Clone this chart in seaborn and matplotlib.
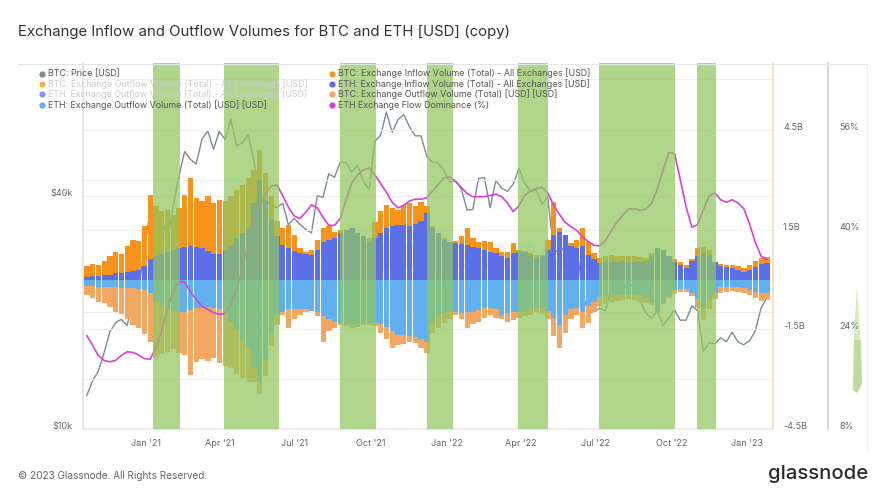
import pandas as pd
import numpy as np
import matplotlib
matplotlib.use("Agg")
import matplotlib.pyplot as plt
import matplotlib.dates as mdates
from matplotlib.lines import Line2D
from matplotlib.patches import Polygon
from matplotlib.ticker import FixedLocator, FixedFormatter, NullLocator
import seaborn as sns

# === 1. Data (weekly) ===
week_start = pd.date_range("2020-10-18", periods=119, freq="7D")

# BTC exchange inflow [B USD]
btc_inflow = [
    0.40, 0.48, 0.45, 0.55, 0.70, 0.84, 0.78, 1.00, 1.20, 1.15,
    1.60, 2.55, 2.20, 2.05, 2.10, 1.95, 2.15, 2.55, 3.06, 2.45,
    2.35, 2.50, 2.30, 2.40, 2.35, 2.50, 2.70, 2.85, 3.06, 3.30,
    3.90, 3.20, 2.50, 1.75, 1.55, 1.64, 1.34, 0.95, 0.84, 0.90,
    1.20, 1.55, 1.60, 1.44, 1.50, 1.45, 1.40, 1.38, 1.30, 1.24,
    1.74, 2.05, 2.24, 2.15, 2.10, 2.24, 2.30, 2.20, 2.34, 2.20,
    1.60, 1.40, 1.25, 1.14, 1.15, 1.30, 1.55, 1.24, 1.14, 1.15,
    1.14, 0.95, 0.84, 0.84, 1.10, 0.90, 0.85, 0.80, 0.74, 0.75,
    1.20, 2.34, 1.55, 1.34, 1.10, 1.20, 1.55, 1.14, 0.80, 0.65,
    0.72, 0.74, 0.70, 0.72, 0.70, 0.70, 0.68, 0.66, 0.80, 0.95,
    0.85, 0.70, 0.62, 0.54, 0.44, 0.62, 0.95, 0.99, 0.90, 0.54,
    0.46, 0.44, 0.44, 0.40, 0.34, 0.45, 0.55, 0.64, 0.68,
]

# ETH exchange inflow [B USD]
eth_inflow = [
    0.08, 0.10, 0.11, 0.13, 0.15, 0.20, 0.21, 0.24, 0.26, 0.30,
    0.42, 0.62, 0.70, 0.78, 0.84, 0.90, 0.95, 0.99, 1.00, 0.98,
    0.95, 0.85, 0.76, 0.78, 0.85, 1.04, 1.25, 1.40, 1.55, 2.30,
    3.00, 2.40, 1.80, 1.30, 1.04, 0.95, 0.85, 0.80, 0.76, 0.74,
    0.88, 1.14, 1.20, 1.24, 1.40, 1.50, 1.55, 1.40, 1.30, 1.14,
    1.25, 1.40, 1.55, 1.60, 1.64, 1.64, 1.60, 1.66, 1.75, 2.00,
    1.55, 1.40, 1.20, 1.14, 1.10, 1.06, 1.04, 0.98, 0.95, 0.88,
    0.84, 0.80, 0.72, 0.65, 0.80, 0.84, 0.82, 0.74, 0.65, 0.72,
    0.90, 1.34, 1.44, 1.34, 1.00, 0.95, 1.00, 0.75, 0.62, 0.50,
    0.52, 0.54, 0.54, 0.55, 0.54, 0.54, 0.54, 0.56, 0.75, 0.95,
    0.88, 0.70, 0.54, 0.44, 0.34, 0.55, 0.70, 0.80, 0.75, 0.54,
    0.40, 0.38, 0.34, 0.30, 0.24, 0.30, 0.38, 0.48, 0.50,
]

# BTC exchange outflow [B USD] (drawn downwards)
btc_outflow = [
    -0.47, -0.55, -0.67, -0.72, -0.82, -0.97, -1.05, -1.20, -1.37, -1.45,
    -1.65, -1.87, -2.37, -2.25, -2.17, -2.10, -2.20, -2.27, -2.88, -2.48,
    -2.40, -2.45, -2.37, -2.50, -2.60, -2.67, -2.85, -2.97, -3.10, -3.08,
    -3.45, -2.90, -2.00, -1.37, -1.07, -1.46, -1.20, -1.07, -0.97, -0.86,
    -1.10, -1.87, -1.55, -1.45, -1.37, -1.40, -1.46, -1.42, -1.37, -1.37,
    -1.40, -1.60, -1.80, -2.07, -1.97, -1.95, -1.87, -1.90, -2.07, -2.20,
    -1.60, -1.46, -1.30, -1.20, -1.07, -1.20, -1.46, -1.35, -1.27, -1.15,
    -1.07, -1.17, -1.20, -1.27, -1.22, -1.15, -1.10, -1.07, -0.97, -1.05,
    -1.20, -1.70, -2.07, -1.60, -1.20, -1.07, -1.46, -1.30, -0.97, -0.80,
    -0.75, -0.67, -0.65, -0.62, -0.60, -0.62, -0.67, -0.72, -0.77, -0.80,
    -0.70, -0.55, -0.45, -0.37, -0.37, -0.50, -0.86, -1.22, -0.90, -0.60,
    -0.40, -0.37, -0.35, -0.37, -0.40, -0.48, -0.56, -0.66, -0.62,
]

# ETH exchange outflow [B USD] (drawn downwards)
eth_outflow = [
    -0.20, -0.21, -0.22, -0.22, -0.23, -0.24, -0.25, -0.25, -0.26, -0.28,
    -0.32, -0.42, -0.67, -0.78, -0.87, -0.92, -0.97, -0.97, -0.93, -0.86,
    -0.86, -0.84, -0.86, -0.90, -1.00, -1.27, -1.50, -1.80, -2.07, -2.67,
    -3.10, -2.40, -1.60, -1.07, -0.97, -0.90, -0.90, -0.88, -0.90, -0.95,
    -0.97, -1.10, -1.20, -1.27, -1.32, -1.35, -1.37, -1.33, -1.30, -1.30,
    -1.30, -1.35, -1.42, -1.55, -1.67, -1.67, -1.70, -1.72, -1.80, -1.87,
    -1.30, -1.07, -1.00, -0.97, -0.97, -1.00, -0.98, -0.97, -0.92, -0.86,
    -0.86, -0.90, -1.07, -1.00, -0.97, -0.97, -0.97, -0.90, -0.86, -0.86,
    -0.95, -1.16, -1.37, -1.07, -0.90, -0.86, -0.97, -0.80, -0.67, -0.52,
    -0.50, -0.47, -0.47, -0.47, -0.47, -0.47, -0.48, -0.55, -0.70, -0.97,
    -0.75, -0.50, -0.33, -0.30, -0.30, -0.40, -0.60, -0.86, -0.62, -0.40,
    -0.24, -0.22, -0.22, -0.24, -0.27, -0.33, -0.37, -0.40, -0.40,
]

# BTC price [k USD], mid-week
btc_price_k = [
    12.2, 13.3, 14.1, 15.7, 17.8, 18.8, 19.2, 18.5, 21.3, 23.2,
    28.9, 36.8, 37.4, 35.5, 30.4, 37.6, 44.9, 52.1, 49.7, 48.4,
    56.0, 58.9, 52.8, 58.7, 56.0, 63.1, 53.8, 54.9, 57.5, 49.6,
    38.0, 39.3, 37.6, 37.3, 38.3, 33.7, 35.0, 33.8, 32.8, 32.1,
    40.0, 39.7, 45.6, 44.7, 48.9, 48.8, 46.1, 48.1, 43.6, 41.6,
    55.4, 57.4, 65.9, 58.4, 62.9, 64.9, 60.4, 57.2, 57.2, 50.6,
    48.9, 48.6, 46.5, 43.4, 43.9, 41.7, 36.8, 36.9, 44.4, 44.6,
    37.3, 43.9, 41.9, 41.1, 42.9, 47.1, 43.2, 41.1, 41.5, 38.1,
    39.7, 29.0, 28.7, 29.5, 29.8, 30.1, 22.6, 20.0, 20.1, 20.5,
    20.2, 23.2, 22.9, 22.8, 23.9, 23.3, 21.5, 20.0, 19.3, 20.2,
    18.5, 19.4, 20.3, 19.1, 19.1, 20.8, 20.2, 15.9, 16.7, 16.6,
    17.2, 16.8, 17.8, 16.8, 16.5, 16.9, 17.9, 20.5, 21.8,
]

# ETH exchange flow dominance [%]
eth_dominance = [
    23.0, 21.5, 19.8, 19.0, 18.8, 19.0, 19.8, 20.4, 20.3, 19.9,
    19.3, 19.2, 21.0, 23.8, 27.2, 30.2, 31.6, 31.6, 30.0, 28.8,
    27.7, 27.2, 26.7, 26.4, 26.5, 27.9, 30.5, 33.8, 38.0, 41.3,
    43.8, 45.8, 47.0, 47.2, 45.5, 43.6, 42.2, 41.8, 42.8, 44.0,
    43.5, 42.0, 40.7, 40.7, 41.8, 44.8, 47.5, 48.8, 49.6, 49.9,
    48.8, 47.4, 46.0, 44.4, 43.5, 43.9, 44.6, 44.9, 44.9, 45.1,
    46.2, 47.3, 48.3, 48.5, 47.7, 46.8, 45.8, 45.3, 45.3, 45.3,
    45.5, 45.7, 45.3, 44.3, 42.9, 43.8, 45.5, 46.2, 46.6, 46.8,
    45.9, 44.0, 42.5, 41.2, 40.5, 39.9, 38.9, 38.1, 37.5, 37.4,
    38.2, 39.8, 41.2, 42.3, 43.3, 43.4, 43.1, 43.3, 44.2, 46.5,
    49.5, 52.4, 52.2, 48.0, 43.7, 40.4, 40.8, 43.2, 45.4, 45.9,
    44.8, 44.4, 44.8, 44.3, 43.4, 41.0, 38.0, 35.8, 35.2,
]

# Highlighted periods (green bands)
band_start = ["2021-01-10", "2021-04-06", "2021-08-25", "2021-12-08",
              "2022-03-29", "2022-07-05", "2022-11-01"]
band_end = ["2021-02-11", "2021-06-11", "2021-10-07", "2022-01-09",
            "2022-05-04", "2022-10-06", "2022-11-24"]

# === 2. Colours and fonts ===
C_BTC_IN = "#f7931a"
C_ETH_IN = "#5c6fe6"
C_BTC_OUT = "#f2a860"
C_ETH_OUT = "#62b0f0"
C_PRICE = "#7b8c90"
C_DOM = "#d93fd9"
C_BAND = "#91c75e"
TXT = "#666666"

sns.set_theme(style="white")
plt.rcParams["font.family"] = ["Inter", "DejaVu Sans"]

W, H = 886, 498
def fx(x):
    return x / W
def fy(y):
    return 1 - y / H

fig = plt.figure(figsize=(W / 100, H / 100), dpi=100)
fig.patch.set_facecolor("white")
ax = fig.add_axes([fx(83), fy(429), fx(773) - fx(83), fy(63) - fy(429)])
ax_vol = ax.twinx()
ax_dom = ax.twinx()

line_dates = week_start + pd.Timedelta(days=3)

# === 3. Price (log, left axis, behind bars) ===
sns.lineplot(x=line_dates, y=np.array(btc_price_k) * 1000, ax=ax,
             color=C_PRICE, linewidth=1.0, zorder=1)
ax.set_yscale("log")
ax.set_ylim(10000, 88200)
ax.yaxis.set_major_locator(FixedLocator([10000, 20000, 40000, 80000]))
ax.yaxis.set_major_formatter(FixedFormatter(["$10k", "", "$40k", ""]))
ax.yaxis.set_minor_locator(NullLocator())
ax.grid(axis="y", color="#eeeeee", linewidth=0.8)
ax.set_axisbelow(True)

# === 4. Volume bars (right axis) ===
ax_vol.bar(week_start, btc_inflow, width=6.4, align="edge", color=C_BTC_IN, linewidth=0, zorder=2)
ax_vol.bar(week_start, eth_inflow, width=6.4, align="edge", color=C_ETH_IN, linewidth=0, zorder=3)
ax_vol.bar(week_start, btc_outflow, width=6.4, align="edge", color=C_BTC_OUT, linewidth=0, zorder=2)
ax_vol.bar(week_start, eth_outflow, width=6.4, align="edge", color=C_ETH_OUT, linewidth=0, zorder=3)
ax_vol.set_ylim(-4.5, 6.517)
ax_vol.yaxis.set_major_locator(FixedLocator([-4.5, -3, -1.5, 0, 1.5, 3, 4.5]))
ax_vol.yaxis.set_major_formatter(FixedFormatter(["-4.5B", "", "-1.5B", "", "1.5B", "", "4.5B"]))
ax_vol.grid(axis="y", color="#eeeeee", linewidth=0.8, zorder=0)
ax_vol.set_axisbelow(True)
ax_vol.text(0.57, 0.47, "glassnode", transform=ax_vol.transAxes, fontsize=34,
            color="#000000", alpha=0.05, ha="center", va="center", zorder=1,
            fontweight="bold")

# === 5. Dominance line + green bands (outer right axis) ===
sns.lineplot(x=line_dates, y=eth_dominance, ax=ax_dom, color=C_DOM,
             linewidth=1.2, zorder=4)
ax_dom.set_ylim(8, 66.76)
ax_dom.yaxis.set_major_locator(FixedLocator([8, 24, 40, 56]))
ax_dom.yaxis.set_major_formatter(FixedFormatter(["8%", "24%", "40%", "56%"]))
for s, e in zip(band_start, band_end):
    ax_dom.axvspan(pd.Timestamp(s), pd.Timestamp(e), color=C_BAND, alpha=0.72,
                   linewidth=0, zorder=5)

# === 6. Axes styling ===
ax.set_xlim(pd.Timestamp("2020-10-16 12:00"), pd.Timestamp("2023-02-01 14:00"))
ax.xaxis.set_major_locator(mdates.MonthLocator(bymonth=[1, 4, 7, 10]))
ax.xaxis.set_major_formatter(mdates.DateFormatter("%b '%y"))
for a in (ax, ax_vol, ax_dom):
    a.set_xlabel("")
    a.set_ylabel("")
    for sp in a.spines.values():
        sp.set_visible(False)

ax.spines["left"].set_visible(True)
ax.spines["left"].set_color("#e2e2e2")
ax.spines["bottom"].set_visible(True)
ax.spines["bottom"].set_color("#e8e8e8")
ax_vol.spines["right"].set_visible(True)
ax_vol.spines["right"].set_color("#f8dcbc")
ax_dom.spines["right"].set_visible(True)
ax_dom.spines["right"].set_position(("outward", 39.6))
ax_dom.spines["right"].set_color("#efc0ef")

for a in (ax, ax_vol, ax_dom):
    a.tick_params(length=0, labelsize=6.5, labelcolor=TXT)
ax.tick_params(axis="x", pad=7)
ax.tick_params(axis="y", pad=7.2)
ax_vol.tick_params(axis="y", pad=7.2)
ax_dom.tick_params(axis="y", pad=8)
for a in (ax, ax_vol, ax_dom):
    for lab in a.get_yticklabels():
        lab.set_verticalalignment("baseline")

# === 7. Title, frame, legend, footer ===
fig.text(fx(18), fy(32), "Exchange Inflow and Outflow Volumes for BTC and ETH [USD] (copy)",
         fontsize=10.75, color="#333333", ha="left", va="center")
fig.add_artist(Line2D([fx(18), fx(867)], [fy(64), fy(64)], color="#e6e6e6", lw=0.8))
fig.add_artist(Line2D([fx(867), fx(867)], [fy(64), fy(452)], color="#eeeeee", lw=0.8))

legend_left = [
    ("BTC: Price [USD]", C_PRICE, True),
    ("BTC: Exchange Outflow Volume (Total) - All Exchanges [USD]", C_BTC_IN, False),
    ("ETH: Exchange Outflow Volume (Total) - All Exchanges [USD]", C_ETH_IN, False),
    ("ETH: Exchange Outflow Volume (Total) [USD] [USD]", C_ETH_OUT, True),
]
legend_right = [
    ("BTC: Exchange Inflow Volume (Total) - All Exchanges [USD]", C_BTC_IN, True),
    ("ETH: Exchange Inflow Volume (Total) - All Exchanges [USD]", C_ETH_IN, True),
    ("BTC: Exchange Outflow Volume (Total) [USD] [USD]", C_BTC_OUT, True),
    ("ETH Exchange Flow Dominance (%)", C_DOM, True),
]
rows_y = [73.5, 84, 94.5, 105]
for col_x, entries in ((42, legend_left), (332, legend_right)):
    for (label, col, active), yy in zip(entries, rows_y):
        fig.add_artist(Line2D([fx(col_x)], [fy(yy)], marker="o", markersize=4.5,
                              color=col, markeredgewidth=0,
                              alpha=1.0 if active else 0.75))
        fig.text(fx(col_x + 6), fy(yy), label, fontsize=6.4,
                 color="#555555" if active else "#cccccc", ha="left", va="center")

# small green marker next to the dominance axis
fig.add_artist(Polygon([(fx(857), fy(288)), (fx(854), fy(330)), (fx(853), fy(390)),
                        (fx(857), fy(393)), (fx(862), fy(384)), (fx(860), fy(330))],
                       closed=True, facecolor=C_BAND, alpha=0.35, edgecolor="none"))
fig.add_artist(Polygon([(fx(854), fy(340)), (fx(853), fy(390)), (fx(857), fy(393)),
                        (fx(862), fy(384)), (fx(861), fy(340))],
                       closed=True, facecolor=C_BAND, alpha=0.4, edgecolor="none"))

fig.text(fx(18), fy(476), "\u00a9 2023 Glassnode. All Rights Reserved.",
         fontsize=7.2, color=TXT, ha="left", va="center")
fig.text(fx(868), fy(474), "glassnode", fontsize=14.6, color="#2b2b2b",
         ha="right", va="center", fontweight="medium")

fig.savefig("out.png", dpi=100)
plt.close(fig)
